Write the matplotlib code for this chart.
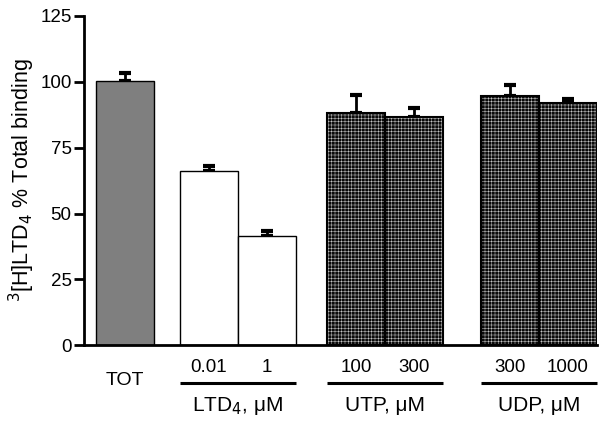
import matplotlib.pyplot as plt
import matplotlib.transforms as mtransforms
import numpy as np

plt.rcParams['font.family'] = ['Liberation Sans', 'DejaVu Sans']
plt.rcParams['hatch.linewidth'] = 0.3

# data
labels = ['TOT', '0.01', '1', '100', '300', '300', '1000']
values = [100.5, 66, 41.3, 88, 86.5, 94.8, 91.8]
errors = [3, 2, 2.2, 7, 3.5, 4, 1.5]
xpos = [0.7, 2.15, 3.15, 4.7, 5.7, 7.35, 8.35]
groups = ['LTD$_4$, \u03bcM', 'UTP, \u03bcM', 'UDP, \u03bcM']
group_idx = [(1, 2), (3, 4), (5, 6)]

fig = plt.figure(figsize=(6, 4.21), dpi=100)
ax = fig.add_axes([0.14, 0.18, 0.855, 0.782])

# error bars (upper only)
ax.errorbar(xpos, values, yerr=[np.zeros(len(values)), errors], fmt='none',
            ecolor='black', elinewidth=2, capsize=4, capthick=3, zorder=1)

# TOT bar
ax.bar(xpos[0], values[0], width=1, color='#7f7f7f', edgecolor='black', linewidth=1, zorder=2)
# LTD4 bars
ax.bar(xpos[1:3], values[1:3], width=1, color='white', edgecolor='black', linewidth=1, zorder=2)
# UTP / UDP bars: black with white grid
ax.bar(xpos[3:], values[3:], width=1, color='#0a0a0a', edgecolor='#e8e8e8',
       linewidth=0, hatch='+++++', zorder=2)
ax.bar(xpos[3:], values[3:], width=1, fill=False, edgecolor='black', linewidth=1.5, zorder=3)

ax.set_xlim(0, 8.85)
ax.set_ylim(0, 125)
ax.set_yticks([0, 25, 50, 75, 100, 125])
ax.set_xticks([])
ax.tick_params(axis='y', direction='out', length=7, width=2, labelsize=13.5, pad=2)
for s in ['top', 'right']:
    ax.spines[s].set_visible(False)
for s in ['left', 'bottom']:
    ax.spines[s].set_linewidth(2)

ax.set_ylabel('$^3$[H]LTD$_4$ % Total binding', fontsize=15.5, labelpad=2)

trans = mtransforms.blended_transform_factory(ax.transData, fig.transFigure)
ax.text(xpos[0], 0.097, labels[0], transform=trans, ha='center', va='center', fontsize=14)
for i in range(1, len(labels)):
    ax.text(xpos[i], 0.128, labels[i], transform=trans, ha='center', va='center', fontsize=13.5)
for g, (a, b) in zip(groups, group_idx):
    x0 = xpos[a] - 0.5
    x1 = xpos[b] + 0.5
    ax.plot([x0, x1], [0.090, 0.090], transform=trans, color='black', lw=2.2,
            clip_on=False, solid_capstyle='butt')
    ax.text((x0 + x1) / 2, 0.036, g, transform=trans, ha='center', va='center', fontsize=15)

fig.savefig('out.png', dpi=100)
